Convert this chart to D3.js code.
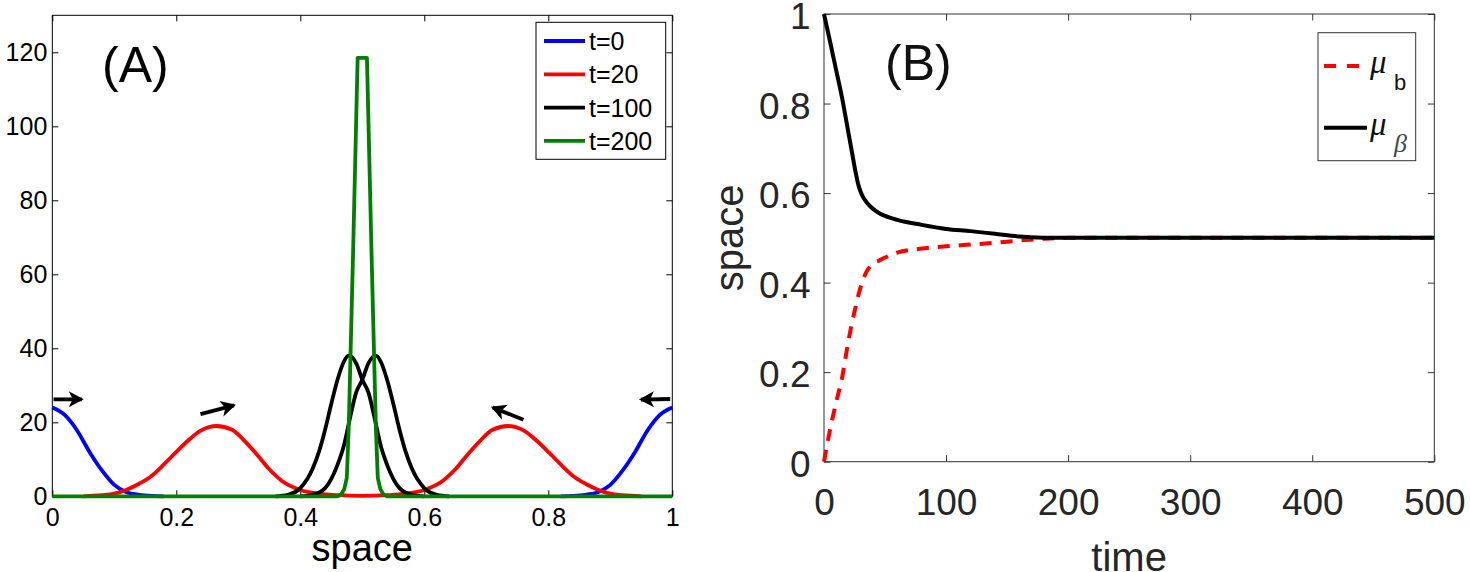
<!DOCTYPE html>
<html>
<head>
<meta charset="utf-8">
<script src="https://cdn.jsdelivr.net/npm/d3@7"></script>
<style>
  body { margin: 0; background: #fff; }
  svg { display: block; font-family: "Liberation Sans", Arial, sans-serif; }
</style>
</head>
<body>
<svg id="fig" width="1470" height="572"></svg>
<script>
"use strict";

// ---- panel A: density over space at four times ----
const spaceTicks = [0, 0.2, 0.4, 0.6, 0.8, 1];
const densityTicks = [0, 20, 40, 60, 80, 100, 120];
const timeLabels = ["t=0", "t=20", "t=100", "t=200"];

// t=0, two half bumps at the borders
const t0Left = [[0, 24], [0.02, 22], [0.04, 17.8], [0.06, 12], [0.08, 7], [0.1, 3.1],
  [0.12, 1.1], [0.14, 0.4], [0.16, 0.1], [0.18, 0]];
const t0Right = [[0.82, 0], [0.84, 0.1], [0.86, 0.4], [0.88, 1.1], [0.9, 3.1], [0.92, 7],
  [0.94, 12], [0.96, 17.8], [0.98, 22], [1, 24]];

// t=20
const t20 = [[0.05, 0], [0.08, 0.3], [0.1, 0.7], [0.12, 1.8], [0.14, 3.4], [0.16, 5.5],
  [0.18, 8.6], [0.2, 12], [0.22, 15.2], [0.24, 17.8], [0.265, 19], [0.29, 18],
  [0.31, 15], [0.33, 11.3], [0.35, 7.3], [0.37, 4.2], [0.4, 1.7], [0.43, 0.7],
  [0.46, 0.3], [0.5, 0.1], [0.54, 0.3], [0.57, 0.7], [0.6, 1.7], [0.63, 4.2],
  [0.65, 7.3], [0.67, 11.3], [0.69, 15], [0.71, 18], [0.735, 19], [0.76, 17.8],
  [0.78, 15.2], [0.8, 12], [0.82, 8.6], [0.84, 5.5], [0.86, 3.4], [0.88, 1.8],
  [0.9, 0.7], [0.92, 0.3], [0.95, 0]];

// t=100, two crossing bumps
const t100Left = [[0.36, 0], [0.38, 0.4], [0.4, 2.2], [0.42, 7.5], [0.43, 12], [0.44, 18],
  [0.45, 25], [0.46, 31.5], [0.47, 36.3], [0.478, 38], [0.49, 36], [0.5, 31.5],
  [0.51, 28], [0.52, 21], [0.53, 13.5], [0.54, 8.5], [0.56, 2.2], [0.58, 0.4], [0.6, 0]];
const t100Right = [[0.4, 0], [0.42, 0.4], [0.44, 2.2], [0.46, 8.5], [0.47, 13.5], [0.48, 21],
  [0.49, 28], [0.5, 31.5], [0.51, 36], [0.522, 38], [0.53, 36.3], [0.54, 31.5],
  [0.55, 25], [0.56, 18], [0.57, 12], [0.58, 7.5], [0.6, 2.2], [0.62, 0.4], [0.64, 0]];

// t=200, one narrow spike
const t200 = [[0, 0], [0.46, 0], [0.466, 0.5], [0.471, 2], [0.475, 5], [0.478, 18],
  [0.485, 65], [0.4925, 118.5], [0.5075, 118.5], [0.515, 65], [0.522, 18], [0.525, 5],
  [0.529, 2], [0.534, 0.5], [0.54, 0], [1, 0]];

// arrows: [fromX, fromY, toX, toY] in data units
const arrowsA = [[0.002, 26.2, 0.062, 26.2], [0.239, 22.2, 0.307, 25.2],
  [0.76, 20.7, 0.697, 24.9], [0.9966, 26.3, 0.935, 26.1]];

// ---- panel B: mean positions over time ----
const timeTicks = [0, 100, 200, 300, 400, 500];
const meanTicks = [0, 0.2, 0.4, 0.6, 0.8, 1];
const timeMuB = [0, 5, 10, 15, 20, 25, 30, 35, 40, 45, 50, 60, 80, 100, 120, 140, 160, 180, 200, 300, 400, 500];
const muB = [0, 0.072, 0.133, 0.19, 0.27, 0.335, 0.39, 0.425, 0.442, 0.449, 0.456, 0.467,
  0.476, 0.481, 0.485, 0.489, 0.494, 0.498, 0.5, 0.5, 0.5, 0.5];
const timeMuBeta = [0, 5, 10, 15, 20, 23, 26, 28, 30, 32, 35, 38, 42, 46, 50, 60, 80, 100,
  120, 140, 160, 180, 200, 300, 400, 500];
const muBeta = [1, 0.938, 0.874, 0.81, 0.735, 0.69, 0.645, 0.62, 0.603, 0.591, 0.579, 0.57,
  0.561, 0.554, 0.549, 0.54, 0.529, 0.52, 0.515, 0.509, 0.503, 0.5005, 0.5, 0.5, 0.5, 0.5];

const svg = d3.select("#fig");
svg.append("rect").attr("width", 1470).attr("height", 572).attr("fill", "#fff");

svg.append("defs").append("marker")
  .attr("id", "head")
  .attr("viewBox", "-16 -10 20 20")
  .attr("markerWidth", 20)
  .attr("markerHeight", 20)
  .attr("markerUnits", "userSpaceOnUse")
  .attr("orient", "auto")
  .append("path")
  .attr("d", "M2,0 L-13,-8 L-9,0 L-13,8 Z")
  .attr("fill", "#000");

// box with inward ticks on all four sides
function frame(x, y, xt, yt, o) {
  const g = svg.append("g");
  const [x0, x1] = x.range();
  const [y0, y1] = y.range();
  g.append("g").attr("transform", `translate(0,${y0})`)
    .call(d3.axisBottom(x).tickValues(xt).tickFormat(String)
      .tickSizeInner(-o.tick).tickSizeOuter(0).tickPadding(o.padX));
  g.append("g").attr("transform", `translate(0,${y1})`)
    .call(d3.axisTop(x).tickValues(xt).tickFormat("").tickSizeInner(-o.tick).tickSizeOuter(0));
  const left = g.append("g").attr("transform", `translate(${x0},0)`)
    .call(d3.axisLeft(y).tickValues(yt).tickFormat(String)
      .tickSizeInner(-o.tick).tickSizeOuter(0).tickPadding(o.padY));
  g.append("g").attr("transform", `translate(${x1},0)`)
    .call(d3.axisRight(y).tickValues(yt).tickFormat("").tickSizeInner(-o.tick).tickSizeOuter(0));
  g.selectAll(".domain").remove();
  g.selectAll("line").attr("stroke", o.color).attr("stroke-width", 1);
  g.selectAll("text")
    .attr("fill", o.text)
    .style("font-family", "'Liberation Sans', Arial, sans-serif")
    .style("font-size", o.size + "px");
  if (o.dyY) left.selectAll("text").attr("dy", o.dyY);
  g.append("rect")
    .attr("x", x0).attr("y", y1)
    .attr("width", x1 - x0).attr("height", y0 - y1)
    .attr("fill", "none").attr("stroke", o.color).attr("stroke-width", 1);
  return g;
}

// ---------- panel A ----------
const xA = d3.scaleLinear().domain([0, 1]).range([52.3, 672.3]);
const yA = d3.scaleLinear().domain([0, 130]).range([496.3, 15.3]);

frame(xA, yA, spaceTicks, densityTicks,
  { tick: 6, padX: 12, padY: 5, color: "#000", text: "#000", size: 25 });

const lineA = d3.line().x(d => xA(d[0])).y(d => yA(d[1]));
const curvesA = [
  { pts: t0Left, c: "#0000ff" }, { pts: t0Right, c: "#0000ff" },
  { pts: t20, c: "#ff0000" },
  { pts: t100Left, c: "#000000" }, { pts: t100Right, c: "#000000" },
  { pts: t200, c: "#008000", linear: true }
];
const colorsA = ["#0000ff", "#ff0000", "#000000", "#008000"];

svg.append("g").selectAll("path")
  .data(curvesA)
  .join("path")
  .attr("d", d => lineA.curve(d.linear ? d3.curveLinear : d3.curveMonotoneX)(d.pts))
  .attr("fill", "none")
  .attr("stroke", d => d.c)
  .attr("stroke-width", 3.8)
  .attr("stroke-linejoin", "round");

// arrows
svg.append("g").selectAll("line")
  .data(arrowsA)
  .join("line")
  .each(function (d) {
    const x1 = xA(d[0]), y1 = yA(d[1]), x2 = xA(d[2]), y2 = yA(d[3]);
    const len = Math.hypot(x2 - x1, y2 - y1);
    d3.select(this)
      .attr("x1", x1).attr("y1", y1)
      .attr("x2", x2 - (x2 - x1) / len * 9).attr("y2", y2 - (y2 - y1) / len * 9);
  })
  .attr("stroke", "#000")
  .attr("stroke-width", 3.8)
  .attr("marker-end", "url(#head)");

svg.append("text")
  .attr("x", 102).attr("y", 82)
  .attr("font-size", 50)
  .text("(A)");

svg.append("text")
  .attr("x", xA(0.5)).attr("y", 561)
  .attr("text-anchor", "middle")
  .attr("font-size", 38)
  .text("space");

// legend A
const legA = svg.append("g");
legA.append("rect")
  .attr("x", 536).attr("y", 22.3).attr("width", 129.7).attr("height", 137)
  .attr("fill", "#fff").attr("stroke", "#000");
const legRows = legA.selectAll("g.row")
  .data(timeLabels)
  .join("g")
  .attr("class", "row")
  .attr("transform", (d, i) => `translate(0,${41 + i * 33.3})`);
legRows.append("line")
  .attr("x1", 544).attr("x2", 585)
  .attr("stroke", (d, i) => colorsA[i]).attr("stroke-width", 3.8);
legRows.append("text")
  .attr("x", 589).attr("y", 9)
  .attr("font-size", 25)
  .text(d => d);

// ---------- panel B ----------
const xB = d3.scaleLinear().domain([0, 500]).range([824, 1434.3]);
const yB = d3.scaleLinear().domain([0, 1]).range([461.7, 14]);

frame(xB, yB, timeTicks, meanTicks,
  { tick: 6.5, padX: 27, padY: 13.5, color: "#333", text: "#262626", size: 37, dyY: "0.4em" });

const lineB = d3.line().x(d => xB(d[0])).y(d => yB(d[1])).curve(d3.curveMonotoneX);

svg.append("path")
  .attr("d", lineB(timeMuB.map((t, i) => [t, muB[i]])))
  .attr("fill", "none")
  .attr("stroke", "#ff0000")
  .attr("stroke-width", 4)
  .attr("stroke-dasharray", "12,9");

svg.append("path")
  .attr("d", lineB(timeMuBeta.map((t, i) => [t, muBeta[i]])))
  .attr("fill", "none")
  .attr("stroke", "#000")
  .attr("stroke-width", 4)
  .attr("stroke-linejoin", "round");

svg.append("text")
  .attr("x", 885).attr("y", 80)
  .attr("font-size", 50)
  .attr("fill", "#111")
  .text("(B)");

svg.append("text")
  .attr("x", xB(250)).attr("y", 571)
  .attr("text-anchor", "middle")
  .attr("font-size", 40)
  .attr("fill", "#262626")
  .text("time");

svg.append("text")
  .attr("transform", `translate(743,${yB(0.5)}) rotate(-90)`)
  .attr("text-anchor", "middle")
  .attr("font-size", 40)
  .attr("fill", "#262626")
  .text("space");

// legend B
const legB = svg.append("g");
legB.append("rect")
  .attr("x", 1318).attr("y", 32.7).attr("width", 97.7).attr("height", 128)
  .attr("fill", "#fff").attr("stroke", "#333");
legB.append("line")
  .attr("x1", 1324).attr("x2", 1360).attr("y1", 66).attr("y2", 66)
  .attr("stroke", "#ff0000").attr("stroke-width", 4).attr("stroke-dasharray", "12,11");
legB.append("line")
  .attr("x1", 1324).attr("x2", 1367).attr("y1", 127.7).attr("y2", 127.7)
  .attr("stroke", "#000").attr("stroke-width", 4);

const mu1 = legB.append("text").attr("x", 1370).attr("y", 73).attr("fill", "#111");
mu1.append("tspan").attr("font-family", "'Liberation Serif', serif")
  .attr("font-style", "italic").attr("font-size", 33).text("μ");
mu1.append("tspan").attr("x", 1394).attr("y", 90).attr("font-size", 22).text("b");

const mu2 = legB.append("text").attr("x", 1370).attr("y", 135).attr("fill", "#111");
mu2.append("tspan").attr("font-family", "'Liberation Serif', serif")
  .attr("font-style", "italic").attr("font-size", 33).text("μ");
mu2.append("tspan").attr("x", 1394).attr("y", 152)
  .attr("font-family", "'Liberation Serif', serif")
  .attr("font-style", "italic").attr("font-size", 26).attr("fill", "#444").text("β");
</script>
</body>
</html>
